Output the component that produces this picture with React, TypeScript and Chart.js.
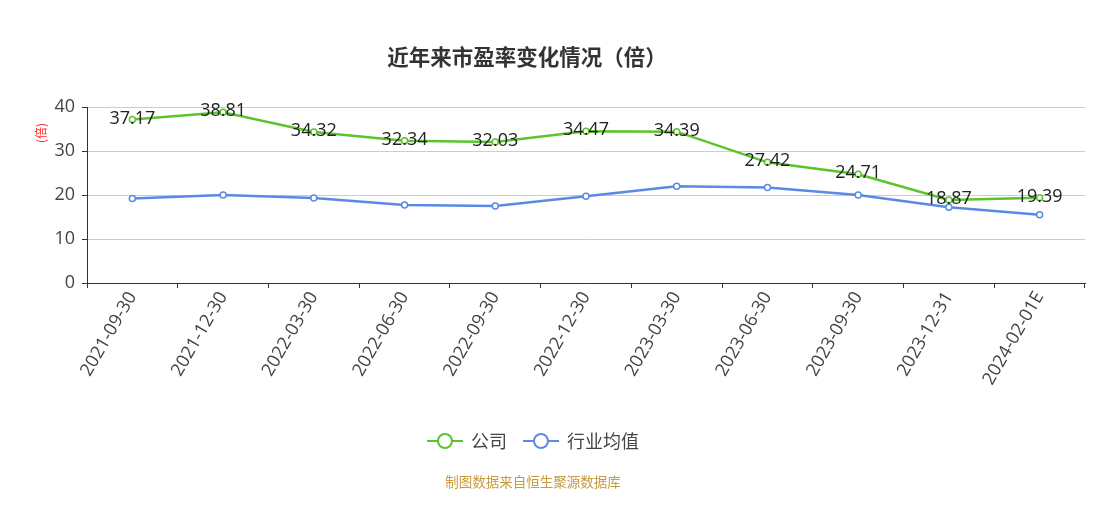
import React, { useEffect, useRef } from "react";
import { Chart, registerables } from "chart.js";

Chart.register(...registerables);

const categories = [
  "2021-09-30", "2021-12-30", "2022-03-30", "2022-06-30", "2022-09-30",
  "2022-12-30", "2023-03-30", "2023-06-30", "2023-09-30", "2023-12-31", "2024-02-01E",
];
const companyValues = [37.17, 38.81, 34.32, 32.34, 32.03, 34.47, 34.39, 27.42, 24.71, 18.87, 19.39];
const industryValues = [19.2, 20.0, 19.3, 17.7, 17.5, 19.7, 22.0, 21.7, 20.0, 17.2, 15.5];
const seriesNames = ["公司", "行业均值"];
const yTicks = [0, 10, 20, 30, 40];
const titleText = "近年来市盈率变化情况（倍）";
const yTitle = "(倍)";
const footerText = "制图数据来自恒生聚源数据库";

const GREEN = "#5ac42c";
const BLUE = "#5a8ae6";
const FONT = "'Noto Sans CJK SC', 'Noto Sans', sans-serif";
const NUMFONT = "'Open Sans', 'Noto Sans CJK SC', sans-serif";

const decorPlugin = {
  id: "decor",
  afterDatasetsDraw(chart: any) {
    const ctx = chart.ctx;
    ctx.save();
    const meta = chart.getDatasetMeta(0);
    ctx.font = `18px ${NUMFONT}`;
    ctx.fillStyle = "#222";
    ctx.textAlign = "center";
    ctx.textBaseline = "middle";
    meta.data.forEach((pt: any, i: number) => {
      ctx.fillText(companyValues[i].toFixed(2), pt.x, pt.y - 1);
    });
    ctx.restore();
  },
  afterDraw(chart: any) {
    const ctx = chart.ctx;
    ctx.save();
    ctx.font = `bold 21.5px ${FONT}`;
    ctx.fillStyle = "#333";
    ctx.textAlign = "center";
    ctx.textBaseline = "middle";
    ctx.fillText(titleText, 527, 57);
    ctx.save();
    ctx.translate(41, 133);
    ctx.rotate(-Math.PI / 2);
    ctx.font = `12px ${FONT}`;
    ctx.fillStyle = "#ff2a2a";
    ctx.fillText(yTitle, 0, 0);
    ctx.restore();
    const items = [
      { x: 427, color: GREEN, text: seriesNames[0] },
      { x: 523, color: BLUE, text: seriesNames[1] },
    ];
    const ly = 441;
    items.forEach((it) => {
      ctx.strokeStyle = it.color;
      ctx.lineWidth = 2;
      ctx.beginPath();
      ctx.moveTo(it.x, ly);
      ctx.lineTo(it.x + 36, ly);
      ctx.stroke();
      ctx.beginPath();
      ctx.arc(it.x + 18, ly, 7, 0, Math.PI * 2);
      ctx.fillStyle = "#fff";
      ctx.fill();
      ctx.stroke();
      ctx.font = `18px ${FONT}`;
      ctx.fillStyle = "#444";
      ctx.textAlign = "left";
      ctx.fillText(it.text, it.x + 44, ly);
    });
    ctx.font = `13.5px ${FONT}`;
    ctx.fillStyle = "#c9993c";
    ctx.textAlign = "center";
    ctx.fillText(footerText, 533, 482);
    ctx.restore();
  },
};

export default function App() {
  const ref = useRef<HTMLCanvasElement | null>(null);
  useEffect(() => {
    if (!ref.current) return;
    const chart = new Chart(ref.current, {
      type: "line",
      data: {
        labels: categories,
        datasets: [
          {
            label: seriesNames[0],
            data: companyValues,
            borderColor: GREEN,
            backgroundColor: "#fff",
            borderWidth: 2.5,
            pointRadius: 3,
            pointBorderWidth: 1.5,
            pointBackgroundColor: "#fff",
            pointBorderColor: GREEN,
            tension: 0,
          },
          {
            label: seriesNames[1],
            data: industryValues,
            borderColor: BLUE,
            backgroundColor: "#fff",
            borderWidth: 2.5,
            pointRadius: 3,
            pointBorderWidth: 1.5,
            pointBackgroundColor: "#fff",
            pointBorderColor: BLUE,
            tension: 0,
          },
        ],
      },
      options: {
        animation: false,
        responsive: false,
        maintainAspectRatio: false,
        layout: { padding: { top: 107, left: 0, right: 32, bottom: 0 } },
        plugins: { legend: { display: false }, tooltip: { enabled: false }, title: { display: false } },
        scales: {
          x: {
            type: "category",
            offset: true,
            grid: {
              offset: true,
              drawOnChartArea: false,
              drawTicks: true,
              tickLength: 5,
              color: "#333",
              tickColor: "#333",
            },
            border: { color: "#333", width: 1 },
            ticks: {
              minRotation: 60,
              maxRotation: 60,
              autoSkip: false,
              color: "#444",
              font: { size: 18, family: NUMFONT },
              padding: 0,
            },
            afterFit: (s: any) => {
              s.height = 222;
            },
          },
          y: {
            min: 0,
            max: 40,
            afterBuildTicks: (s: any) => {
              s.ticks = yTicks.map((v) => ({ value: v }));
            },
            grid: {
              color: "#cccccc",
              tickColor: "#333",
              tickLength: 5,
              drawTicks: true,
            },
            border: { color: "#333", width: 1 },
            ticks: {
              color: "#444",
              font: { size: 18, family: NUMFONT },
              padding: 7,
            },
            afterFit: (s: any) => {
              s.width = 87;
            },
          },
        },
      },
      plugins: [decorPlugin],
    });
    return () => chart.destroy();
  }, []);
  return (
    <div style={{ position: "fixed", left: 0, top: 0, width: 1117, height: 505, background: "#fff" }}>
      <canvas ref={ref} width={1117} height={505} style={{ width: 1117, height: 505 }} />
    </div>
  );
}
